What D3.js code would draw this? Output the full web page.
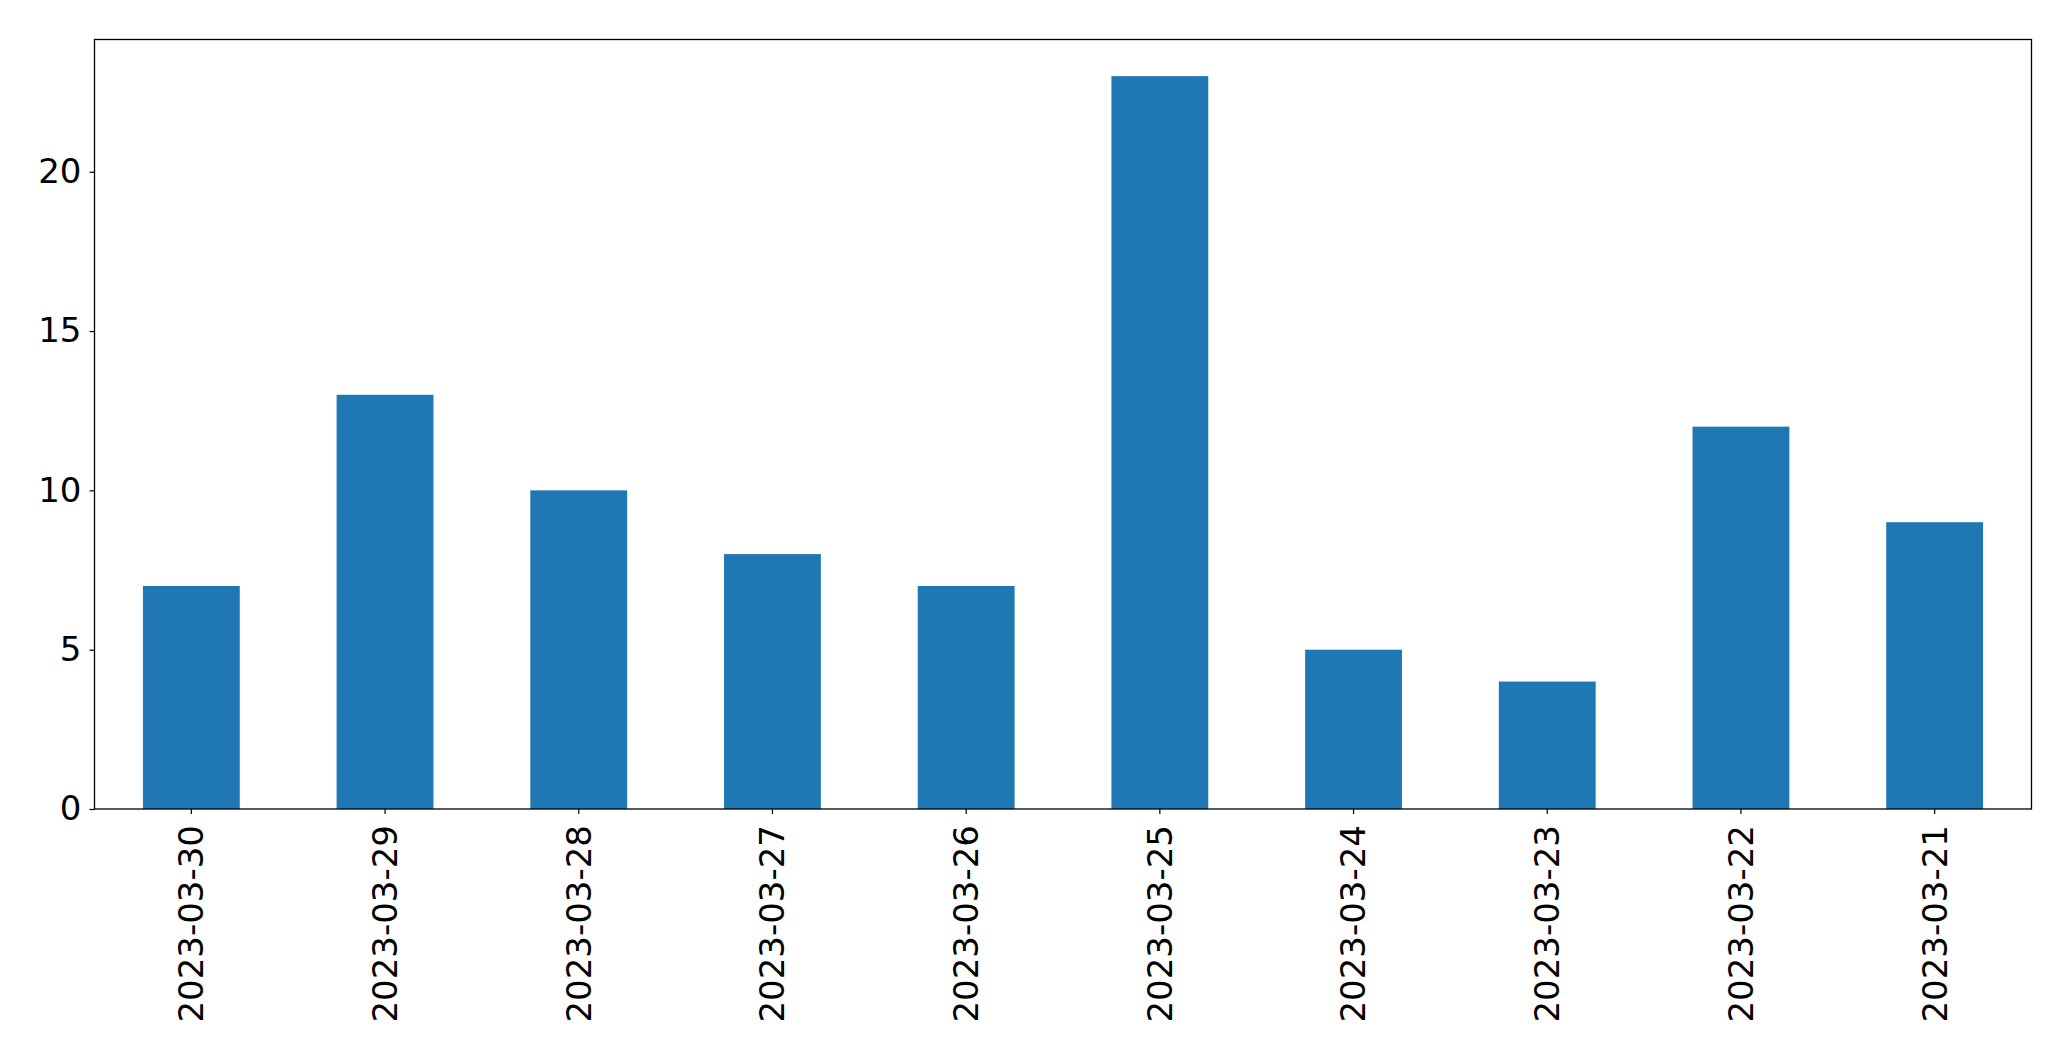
<!DOCTYPE html>
<html><head><meta charset="utf-8">
<script src="https://cdn.jsdelivr.net/npm/d3@7"></script>
<style>body{margin:0;background:#fff}svg{display:block}text{font-family:"DejaVu Sans",sans-serif}</style>
</head><body>
<svg id="c" width="2071" height="1061"></svg>
<script>
const categories = ["2023-03-30","2023-03-29","2023-03-28","2023-03-27","2023-03-26","2023-03-25","2023-03-24","2023-03-23","2023-03-22","2023-03-21"];
const values = [7,13,10,8,7,23,5,4,12,9];
const yTicks = [0,5,10,15,20];

const svg = d3.select("#c");
const L=94.5, R=2031.5, T=39.5, B=809;
const x = d3.scaleBand().domain(categories).range([L,R]).paddingInner(0.5).paddingOuter(0.25);
const y = d3.scaleLinear().domain([0, d3.max(values)*1.05]).range([B,T]);

svg.append("g").selectAll("rect").data(values).join("rect")
  .attr("x",(d,i)=>x(categories[i])).attr("width",x.bandwidth())
  .attr("y",d=>y(d)).attr("height",d=>B-y(d)).attr("fill","#1f77b4");

const ya = svg.append("g").attr("transform",`translate(${L},0)`)
  .call(d3.axisLeft(y).tickValues(yTicks).tickSize(5).tickPadding(8).tickFormat(d3.format("d")));
ya.select(".domain").remove();
ya.selectAll("text").style("font-size","34px").attr("fill","#000");
ya.selectAll("line").attr("stroke","#000").attr("stroke-width",1.2);

const xa = svg.append("g").attr("transform",`translate(0,${B})`)
  .call(d3.axisBottom(x).tickSize(5).tickPadding(0));
xa.select(".domain").remove();
xa.selectAll("line").attr("stroke","#000").attr("stroke-width",1.2);
xa.selectAll("text").style("font-size","34px").attr("fill","#000")
  .attr("transform","rotate(-90)").attr("text-anchor","end")
  .attr("x",-16).attr("y",0).attr("dy","0.35em");

svg.append("rect").attr("x",L).attr("y",T).attr("width",R-L).attr("height",B-T)
  .attr("fill","none").attr("stroke","#000").attr("stroke-width",1.3);
</script>
</body></html>
